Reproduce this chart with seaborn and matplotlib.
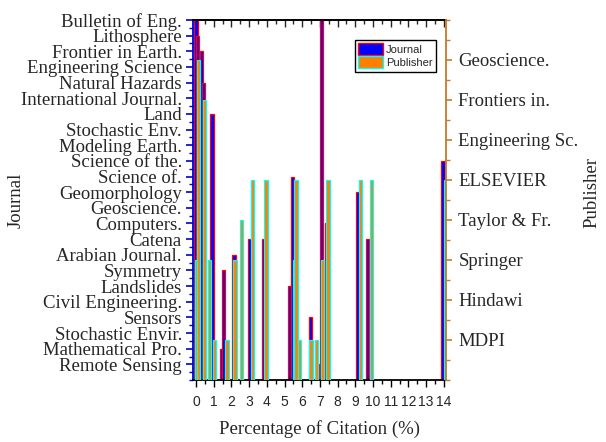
import matplotlib
matplotlib.use("Agg")
import matplotlib.pyplot as plt
import seaborn as sns
import pandas as pd
from matplotlib.patches import Patch
from matplotlib.ticker import MultipleLocator, FixedLocator

# ---- categories ----
journals = ["Remote Sensing", "Mathematical Pro.", "Stochastic Envir.", "Sensors",
            "Civil Engineering.", "Landslides", "Symmetry", "Arabian Journal.", "Catena",
            "Computers.", "Geoscience.", "Geomorphology", "Science of.", "Science of the.",
            "Modeling Earth.", "Stochastic Env.", "Land", "International Journal.",
            "Natural Hazards", "Engineering Science", "Frontier in Earth.", "Lithosphere",
            "Bulletin of Eng."]
publishers = ["MDPI", "Hindawi", "Springer", "Taylor & Fr.", "ELSEVIER",
              "Engineering Sc.", "Frontiers in.", "Geoscience."]

# ---- journal bars: percentage of citation and journal ----
journal_pct = [0.0, 0.08, 0.3, 0.42, 0.9, 1.45, 1.55, 2.15, 3.05, 3.8, 5.3, 5.45,
               6.45, 6.85, 7.1, 7.4, 9.15, 9.7, 13.95]
journal_name = ["Bulletin of Eng.", "Lithosphere", "Frontier in Earth.", "Natural Hazards",
                "Land", "Mathematical Pro.", "Symmetry", "Arabian Journal.", "Catena",
                "Catena", "Landslides", "Science of.", "Sensors", "Remote Sensing",
                "Bulletin of Eng.", "Computers.", "Geomorphology", "Catena",
                "Science of the."]

# ---- publisher bars: percentage of citation and publisher ----
publisher_pct = [0.05, 0.15, 0.5, 0.75, 1.05, 1.75, 2.2, 2.55, 3.2, 3.95, 5.55, 5.65,
                 5.85, 6.5, 6.8, 7.15, 7.45, 9.3, 9.9, 14.1]
publisher_name = ["Springer", "Geoscience.", "Frontiers in.", "Springer", "MDPI", "MDPI",
                  "Springer", "Taylor & Fr.", "ELSEVIER", "ELSEVIER", "Springer",
                  "ELSEVIER", "MDPI", "MDPI", "MDPI", "Springer", "ELSEVIER",
                  "ELSEVIER", "ELSEVIER", "ELSEVIER"]

x_ticks = list(range(15))
x_tick_labels = [str(v) for v in x_ticks]

jdf = pd.DataFrame({"pct": journal_pct,
                    "level": [journals.index(n) + 1 for n in journal_name]})
pdf = pd.DataFrame({"pct": publisher_pct,
                    "level": [publishers.index(n) + 1 for n in publisher_name]})

sns.set_style("ticks")
plt.rcParams["font.family"] = ["Liberation Serif", "DejaVu Serif"]

BLUE, RED, ORANGE, CYAN = "#0000FF", "#FF0000", "#FF7F00", "#00FFFF"
LSPINE, RSPINE = "#0000CC", "#C8782A"

fig = plt.figure(figsize=(6.06, 4.42), dpi=100)
ax = fig.add_axes([193 / 606, 1 - 380 / 442, (446 - 193) / 606, 360 / 442])
ax2 = ax.twinx()

sns.barplot(data=jdf, x="pct", y="level", native_scale=True, orient="x", errorbar=None,
            color=BLUE, saturation=1, edgecolor=RED, linewidth=0.9, ax=ax)
sns.barplot(data=pdf, x="pct", y="level", native_scale=True, orient="x", errorbar=None,
            color=ORANGE, saturation=1, edgecolor=CYAN, linewidth=0.9, ax=ax2)


def fix_width(axis, w):
    for p in axis.patches:
        c = p.get_x() + p.get_width() / 2
        p.set_x(c - w / 2)
        p.set_width(w)


fix_width(ax, 0.18)
fix_width(ax2, 0.18)

ax.set_xlim(-0.17, 14.12)
ax.set_ylim(0, 23)
ax2.set_ylim(0, 9)

# x axis
ax.set_xticks(x_ticks)
ax.set_xticklabels(x_tick_labels, family="Liberation Sans", fontsize=10)
ax.xaxis.set_minor_locator(MultipleLocator(0.5))
ax.tick_params(axis="x", which="major", direction="out", length=5, width=1, color="black", pad=6)
ax.tick_params(axis="x", which="minor", direction="out", length=3, width=1, color="black")
top = ax.secondary_xaxis("top")
top.set_xticks(x_ticks)
top.xaxis.set_minor_locator(MultipleLocator(0.5))
top.tick_params(axis="x", which="major", direction="in", length=5, width=1, labeltop=False)
top.tick_params(axis="x", which="minor", direction="in", length=3, width=1)
top.spines["top"].set_linewidth(1.3)
ax.set_xlabel("Percentage of Citation (%)", fontsize=13.5, labelpad=8)

# left axis (journals)
ax.set_yticks(range(1, 24))
ax.set_yticklabels(journals, fontsize=13.5)
ax.yaxis.set_minor_locator(FixedLocator([i + 0.5 for i in range(0, 23)] + [0]))
ax.tick_params(axis="y", which="major", direction="out", length=5, width=1.2, color=LSPINE, pad=3)
ax.tick_params(axis="y", which="minor", direction="out", length=3, width=1, color=LSPINE)
ax.set_ylabel("Journal", fontsize=13.5)
ax.yaxis.set_label_coords(-0.665, 0.5)

# right axis (publishers)
ax2.set_yticks(range(1, 9))
ax2.set_yticklabels(publishers, fontsize=13.5)
ax2.yaxis.set_minor_locator(FixedLocator([i + 0.5 for i in range(0, 9)] + [0, 9]))
ax2.tick_params(axis="y", which="major", direction="out", length=4, width=1.2, color=RSPINE, pad=5)
ax2.tick_params(axis="y", which="minor", direction="out", length=3, width=1, color=RSPINE)
ax2.set_ylabel("Publisher", fontsize=13.5)
ax2.yaxis.set_label_coords(1.542, 0.52)
ax2.set_xlabel("")

for a in (ax, ax2):
    for s in a.spines.values():
        s.set_linewidth(1.3)
ax.spines["left"].set_color(LSPINE)
ax.spines["bottom"].set_color("black")
ax.spines["top"].set_color("black")
ax.spines["right"].set_visible(False)
ax2.spines["left"].set_visible(False)
ax2.spines["right"].set_color(RSPINE)
ax2.spines["top"].set_visible(False)
ax2.spines["bottom"].set_visible(False)

handles = [Patch(facecolor=BLUE, edgecolor=RED, linewidth=1, label="Journal"),
           Patch(facecolor=ORANGE, edgecolor=CYAN, linewidth=1, label="Publisher")]
leg = ax2.legend(handles=handles, loc="upper right", bbox_to_anchor=(0.96, 0.945),
                 prop={"family": "Liberation Sans", "size": 8}, frameon=True,
                 fancybox=False, edgecolor="black", framealpha=1, borderpad=0.3,
                 handlelength=2.2, handleheight=1.3, handletextpad=0.3,
                 labelspacing=0.1, borderaxespad=0)
leg.get_frame().set_linewidth(1)

fig.savefig("out.png", dpi=100)
